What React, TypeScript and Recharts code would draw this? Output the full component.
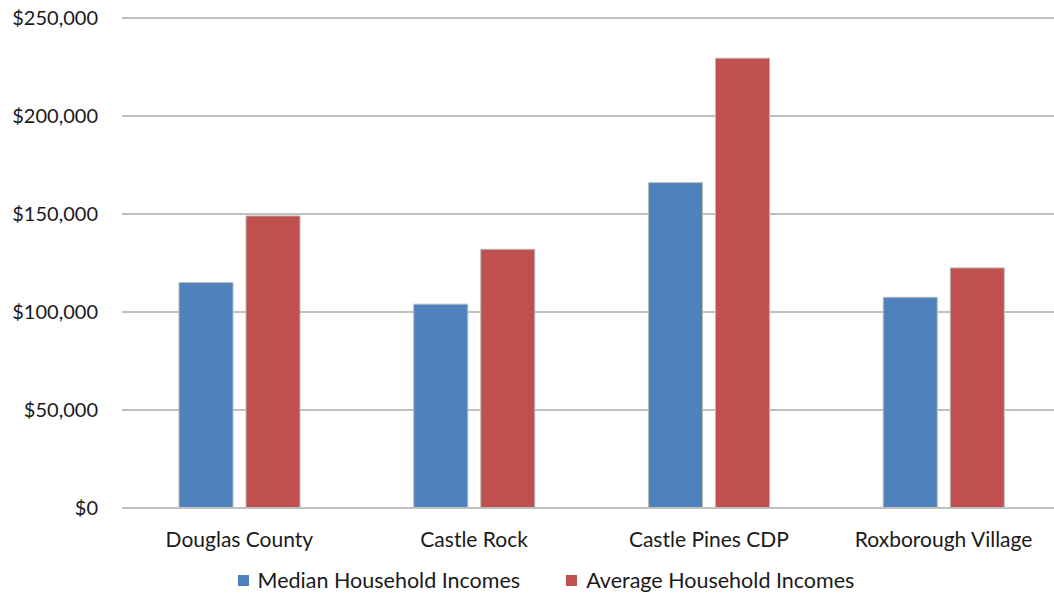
import React from "react";
import {
  BarChart,
  Bar,
  XAxis,
  YAxis,
  CartesianGrid,
  Legend,
} from "recharts";

const places = [
  "Douglas County",
  "Castle Rock",
  "Castle Pines CDP",
  "Roxborough Village",
];
const medianIncomes = [115000, 104000, 166000, 107500];
const averageIncomes = [149000, 132000, 229500, 122500];
const yTicks = [0, 50000, 100000, 150000, 200000, 250000];

const data = places.map((name, i) => ({
  name,
  median: medianIncomes[i],
  average: averageIncomes[i],
}));

const FONT = "Lato, 'Liberation Sans', sans-serif";
const TEXT = "#1a1a1a";

const fmtMoney = (v: number) => "$" + v.toLocaleString("en-US");

function LegendBox() {
  const items = [
    { label: "Median Household Incomes", color: "#4F81BD" },
    { label: "Average Household Incomes", color: "#C0504D" },
  ];
  return (
    <div
      style={{
        width: 1054,
        height: 48,
        display: "flex",
        justifyContent: "center",
        alignItems: "flex-end",
        paddingBottom: 3,
        boxSizing: "border-box",
        fontFamily: FONT,
        fontSize: 21.5,
        color: TEXT,
        gap: 46,
        paddingLeft: 38,
      }}
    >
      {items.map((it) => (
        <div key={it.label} style={{ display: "flex", alignItems: "center" }}>
          <span
            style={{
              display: "inline-block",
              width: 11,
              height: 11,
              background: it.color,
              marginRight: 9,
            }}
          />
          {it.label}
        </div>
      ))}
    </div>
  );
}

function IncomeChart() {
  return (
    <BarChart
      width={1054}
      height={596}
      data={data}
      margin={{ top: 18, right: -7, left: 0, bottom: 0 }}
      barGap={13}
      barSize={54}
    >
      <CartesianGrid
        vertical={false}
        stroke="#c0c0c0"
        strokeWidth={2}
      />
      <XAxis
        dataKey="name"
        height={40}
        tickLine={false}
        axisLine={{ stroke: "#c0c0c0", strokeWidth: 2 }}
        tick={{ fill: TEXT, fontFamily: FONT, fontSize: 21 }}
        tickMargin={18}
        interval={0}
      />
      <YAxis
        width={122}
        domain={[0, 250000]}
        ticks={yTicks}
        tickFormatter={fmtMoney}
        axisLine={false}
        tickLine={false}
        tickMargin={18}
        tick={{ fill: TEXT, fontFamily: FONT, fontSize: 20 }}
      />
      <Legend verticalAlign="bottom" content={() => <LegendBox />} />
      <Bar
        dataKey="median"
        name="Median Household Incomes"
        fill="#4F81BD"
        stroke="#b8b8b8"
        strokeWidth={1}
        isAnimationActive={false}
      />
      <Bar
        dataKey="average"
        name="Average Household Incomes"
        fill="#C0504D"
        stroke="#b8b8b8"
        strokeWidth={1}
        isAnimationActive={false}
      />
    </BarChart>
  );
}

export default function App() {
  return (
    <div
      style={{
        position: "absolute",
        left: 0,
        top: 0,
        width: 1054,
        height: 596,
        overflow: "hidden",
        background: "#fff",
      }}
    >
      <IncomeChart />
    </div>
  );
}
